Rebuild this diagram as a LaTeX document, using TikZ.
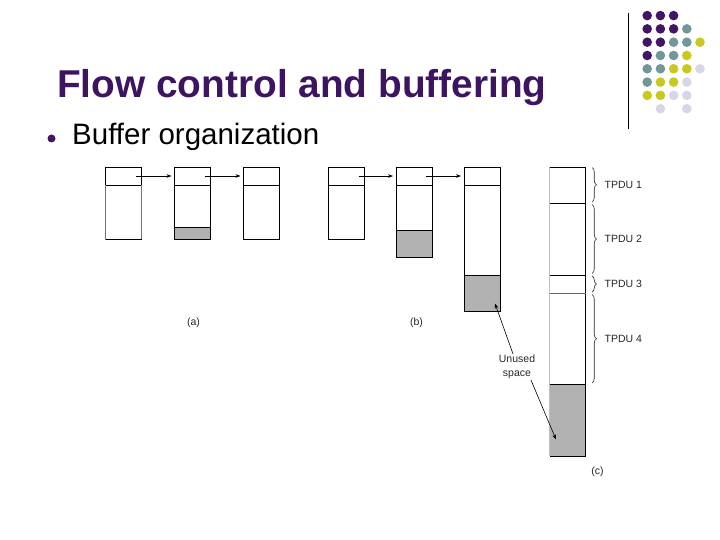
\documentclass[tikz,border=0pt]{standalone}
\usepackage{fontspec}
\setmainfont{Liberation Sans}
\usetikzlibrary{decorations.pathreplacing, arrows.meta}
\begin{document}
\begin{tikzpicture}[x=1pt, y=-1pt, >={Stealth[length=5pt, width=3.6pt]}]
		\definecolor{titlepurple}{RGB}{60, 20, 96}
		\definecolor{dotpurple}{RGB}{66, 22, 100}
		\definecolor{dotteal}{RGB}{112, 152, 152}
		\definecolor{dotyellow}{RGB}{200, 200, 30}
		\definecolor{dotlilac}{RGB}{214, 214, 230}
		\tikzset{
			hdr/.style={draw, line width=0.8pt, minimum width=36pt, minimum height=18pt, anchor=north west, inner sep=0pt, outer sep=0pt},
			free/.style={fill=black!30},
			lbl/.style={font=\fontsize{10.5}{14}\selectfont, text=black!85},
			tpdu/.style={decorate, decoration={brace, amplitude=4.5pt}, line width=0.6pt, black!85},
			link/.style={->, line width=0.6pt},
		}
		\useasboundingbox (0,0) rectangle (720,540);
		
		% 标题
		\node[anchor=base west, inner sep=0pt, text=titlepurple, font=\fontsize{38.8}{44}\selectfont\bfseries] (title) at (57,98) {Flow control and buffering};
		\fill[dotpurple] (51.5,138.5) circle (4);
		\node[anchor=base west, inner sep=0pt, font=\fontsize{29.5}{34}\selectfont] (item) at (72,145) {Buffer organization};
		
		% 右上角圆点
		\draw[line width=1pt] (628,13) -- (628,129);
		\foreach \col/\row/\c in {1/1/dotpurple, 2/1/dotpurple, 3/1/dotpurple,
			1/2/dotpurple, 2/2/dotpurple, 3/2/dotpurple, 4/2/dotteal,
			1/3/dotpurple, 2/3/dotpurple, 3/3/dotteal, 4/3/dotteal, 5/3/dotyellow,
			1/4/dotpurple, 2/4/dotteal, 3/4/dotteal, 4/4/dotyellow,
			1/5/dotteal, 2/5/dotteal, 3/5/dotyellow, 4/5/dotyellow, 5/5/dotlilac,
			1/6/dotteal, 2/6/dotyellow, 3/6/dotyellow, 4/6/dotlilac,
			1/7/dotyellow, 2/7/dotyellow, 3/7/dotlilac, 4/7/dotlilac,
			2/8/dotlilac, 4/8/dotlilac}
			\fill[\c] ({634+13.2*\col},{2.3+13.3*\row}) circle (4.8);
		
		% (a) 缓冲区
		\node[hdr] (a1) at (105.5,167) {};
		\node[hdr] (a2) at (174.5,167) {};
		\node[hdr] (a3) at (243.5,167) {};
		\fill[free] (a2.south west) ++(0,42) rectangle ++(36,12.5);
		\draw[line width=0.8pt, black!55] (a1.south west) -- ++(0,54.5);
		\draw[line width=0.8pt, black!55] (a1.south east) -- ++(0,54.5);
		\draw[line width=0.8pt] (a1.south west) ++(0,54.5) -- ++(36,0);
		\draw[line width=0.8pt] (a2.south west) -- ++(0,54.5) -- ++(36,0) -- ++(0,-54.5);
		\draw[line width=0.8pt] (a2.south west) ++(0,42) -- ++(36,0);
		\draw[line width=0.8pt] (a3.south west) -- ++(0,54.5) -- ++(36,0) -- ++(0,-54.5);
		\draw[link] ([xshift=-6pt]a1.east) -- ([xshift=-3pt]a2.west);
		\draw[link] ([xshift=-6pt]a2.east) -- ([xshift=-3pt]a3.west);
		\node[lbl] (capa) at (193.5,323) {(a)};
		
		% (b) 缓冲区
		\node[hdr] (b1) at (328.5,167) {};
		\node[hdr] (b2) at (396,167) {};
		\node[hdr] (b3) at (464,167) {};
		\fill[free] (b2.south west) ++(0,45.5) rectangle ++(36,27);
		\fill[free] (b3.south west) ++(0,90.5) rectangle ++(36,36);
		\draw[line width=0.8pt] (b1.south west) -- ++(0,54.5) -- ++(36,0) -- ++(0,-54.5);
		\draw[line width=0.8pt] (b2.south west) -- ++(0,72.5) -- ++(36,0) -- ++(0,-72.5);
		\draw[line width=0.8pt] (b2.south west) ++(0,45.5) -- ++(36,0);
		\draw[line width=0.8pt] (b3.south west) -- ++(0,126.5) -- ++(36,0) -- ++(0,-126.5);
		\draw[line width=0.8pt] (b3.south west) ++(0,90.5) -- ++(36,0);
		\draw[link] ([xshift=-6pt]b1.east) -- ([xshift=-3pt]b2.west);
		\draw[link] ([xshift=-6pt]b2.east) -- ([xshift=-3pt]b3.west);
		\node[lbl] (capb) at (416.5,323) {(b)};
		
		% (c) 可变长度缓冲区
		\node[minimum width=36pt, minimum height=289pt, anchor=north west, inner sep=0pt, outer sep=0pt] (c) at (549.5,167) {};
		\fill[free] (c.south west) rectangle ++(36,-72);
		\draw[black!25] (c.north west) -- (c.south west);
		\draw[line width=0.8pt] (c.north west) -- (c.north east) -- (c.south east) -- (c.south west);
		\draw[line width=0.8pt] (c.north west) ++(0,36) -- ++(36,0);
		\draw[line width=0.8pt] (c.north west) ++(0,108) -- ++(36,0);
		\draw[black!60] (c.north west) ++(0,126.5) -- ++(36,0);
		\draw[line width=0.8pt] (c.south west) ++(0,-72) -- ++(36,0);
		\draw[tpdu] (592,167.5) -- (592,202) node[lbl, midway, anchor=west, xshift=9pt] (t1) {TPDU 1};
		\draw[tpdu] (592,204.5) -- (592,273.5) node[lbl, midway, anchor=west, xshift=9pt] (t2) {TPDU 2};
		\draw[tpdu] (592,276) -- (592,292) node[lbl, midway, anchor=west, xshift=9pt] (t3) {TPDU 3};
		\draw[tpdu] (592,294.5) -- (592,383) node[lbl, midway, anchor=west, xshift=9pt] (t4) {TPDU 4};
		\node[lbl] (capc) at (597.5,472) {(c)};
		
		% 未用空间
		\node[lbl, align=center, inner sep=1pt] (unused) at (517,367) {Unused\\space};
		\coordinate (gapb) at (495,303.5);
		\coordinate (gapc) at (556,439.5);
		\draw[link] ([xshift=-4pt]unused.north) -- (gapb);
		\draw[link] ([xshift=14pt]unused.south) -- (gapc);
		\end{tikzpicture}
\end{document}
